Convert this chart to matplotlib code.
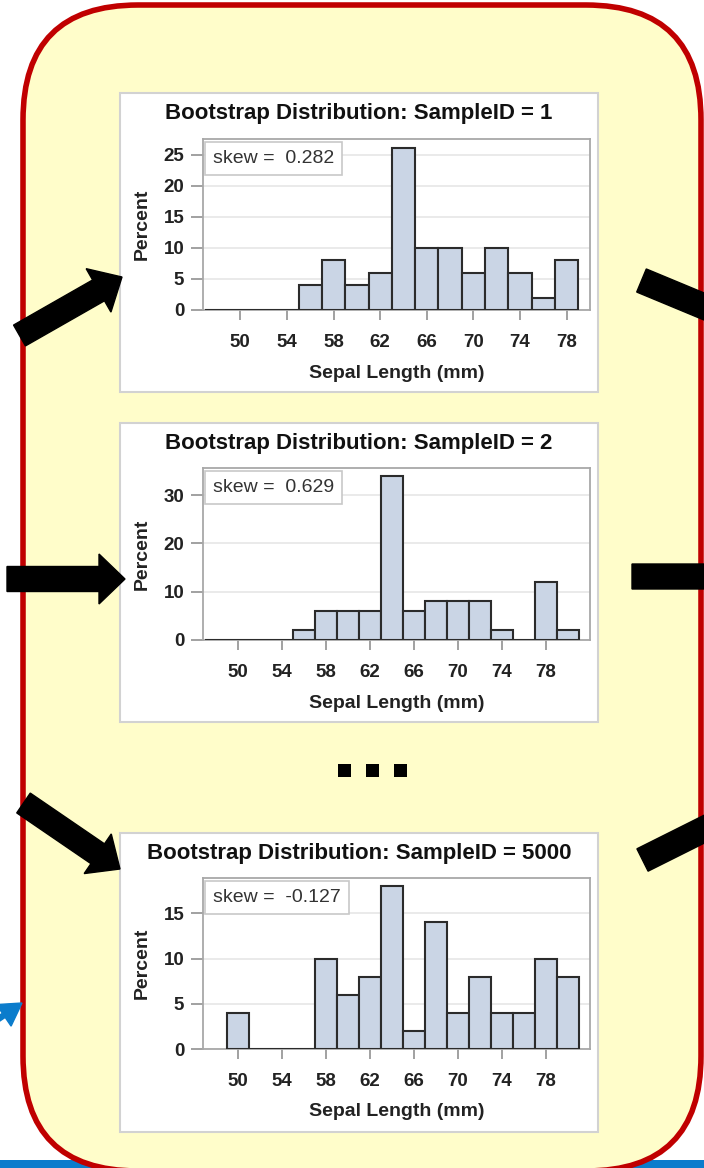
import matplotlib.pyplot as plt
from matplotlib.patches import Rectangle, FancyBboxPatch, FancyArrow

plt.rcParams['font.family'] = ['Liberation Sans', 'DejaVu Sans']

# percent of the resample in each 2 mm bin (keyed by bin midpoint)
mid1 = [48, 50, 52, 54, 56, 58, 60, 62, 64, 66, 68, 70, 72, 74, 76, 78]
pct1 = [0, 0, 0, 0, 4, 8, 4, 6, 26, 10, 10, 6, 10, 6, 2, 8]
mid2 = [48, 50, 52, 54, 56, 58, 60, 62, 64, 66, 68, 70, 72, 74, 76, 78, 80]
pct2 = [0, 0, 0, 0, 2, 6, 6, 6, 34, 6, 8, 8, 8, 2, 0, 12, 2]
mid3 = [50, 52, 54, 56, 58, 60, 62, 64, 66, 68, 70, 72, 74, 76, 78, 80]
pct3 = [4, 0, 0, 0, 10, 6, 8, 18, 2, 14, 4, 8, 4, 4, 10, 8]

sample_ids = [1, 2, 5000]
skews = [0.282, 0.629, -0.127]
xticks = [50, 54, 58, 62, 66, 70, 74, 78]
yticks = [[0, 5, 10, 15, 20, 25], [0, 10, 20, 30], [0, 5, 10, 15]]

W, H = 704, 1168
fig = plt.figure(figsize=(W / 100, H / 100), dpi=100)

# background canvas in pixel units (y down)
bg = fig.add_axes([0, 0, 1, 1])
bg.set_xlim(0, W)
bg.set_ylim(H, 0)
bg.axis('off')

bg.add_patch(Rectangle((0, 1160), W, 8, fc='#0b7ccc', ec='none', zorder=1))
bg.add_patch(FancyBboxPatch((23, 5), 678, 1166, boxstyle='round,pad=0,rounding_size=115',
                            fc='#fffdca', ec='#c00000', lw=4, zorder=2))

# white graph panels: left, top, right, bottom
panels = [(120, 93, 598, 392), (120, 423, 598, 722), (120, 833, 598, 1132)]
# plot areas inside the panels
plot_areas = [(203, 139, 590, 310), (203, 468, 590, 640), (203, 878, 590, 1049)]
xlims = [(46.8, 80), (46.8, 82), (46.8, 82)]
ylims = [(0, 27.5), (0, 35.6), (0, 18.9)]

for (l, t, r, b) in panels:
    bg.add_patch(Rectangle((l, t), r - l, b - t, fc='white', ec='#d2d2d2', lw=1.5, zorder=3))

# block arrows pointing into / out of the panels
arrow_kw = dict(length_includes_head=True, color='black', zorder=6)
bg.add_patch(FancyArrow(19.5, 335.5, 102.5, -58.5, width=24, head_width=50, head_length=27, **arrow_kw))
bg.add_patch(FancyArrow(7, 579, 118, 0, width=25, head_width=50, head_length=26, **arrow_kw))
bg.add_patch(FancyArrow(23.5, 803, 96.5, 66, width=24, head_width=48, head_length=27, **arrow_kw))
bg.add_patch(FancyArrow(641.5, 280.5, 130, 54, width=25, head_width=50, head_length=30, **arrow_kw))
bg.add_patch(FancyArrow(632, 576.5, 130, 0, width=25, head_width=50, head_length=30, **arrow_kw))
bg.add_patch(FancyArrow(642.5, 860, 130, -65, width=25, head_width=50, head_length=30, **arrow_kw))
bg.add_patch(FancyArrow(-40, 1045, 62, -42, width=5, head_width=26, head_length=22,
                        length_includes_head=True, color='#0b7ccc', zorder=6))

# ellipsis between the second and last sample
for x0 in [338, 366, 394]:
    bg.add_patch(Rectangle((x0, 764), 13, 13, fc='black', ec='none', zorder=6))

data = [(mid1, pct1), (mid2, pct2), (mid3, pct3)]
for i, (mid, pct) in enumerate(data):
    l, t, r, b = plot_areas[i]
    ax = fig.add_axes([l / W, 1 - b / H, (r - l) / W, (b - t) / H])
    ax.bar(mid, pct, width=2, color='#cad5e5', edgecolor='#2b2b2b', linewidth=1.5, zorder=3)
    ax.set_xlim(*xlims[i])
    ax.set_ylim(*ylims[i])
    ax.set_xticks(xticks)
    ax.set_yticks(yticks[i])
    ax.yaxis.grid(True, color='#e6e6e6', lw=1.2)
    ax.set_axisbelow(True)
    for s in ax.spines.values():
        s.set_color('#a8a8a8')
        s.set_linewidth(1.3)
    ax.tick_params(axis='x', length=7, width=1.3, color='#9a9a9a', pad=10)
    ax.tick_params(axis='y', length=8.5, width=1.3, color='#9a9a9a', pad=5)
    for lab in ax.get_xticklabels() + ax.get_yticklabels():
        lab.set_fontsize(13.5)
        lab.set_fontweight('bold')
        lab.set_color('#222222')
    ax.set_xlabel('Sepal Length (mm)', fontsize=14, fontweight='bold', color='#222222', labelpad=10)
    ax.set_ylabel('Percent', fontsize=14, fontweight='bold', color='#222222', labelpad=9)
    ax.annotate(f'skew =  {skews[i]:.3f}', xy=(0, 1), xycoords='axes fraction',
                xytext=(10, -11), textcoords='offset pixels', ha='left', va='top',
                fontsize=14, color='#333333', zorder=5,
                bbox=dict(boxstyle='square,pad=0.4', fc='white', ec='#c8c8c8', lw=1.2))
    pl, pt, pr, pb = panels[i]
    bg.text((pl + pr) / 2, pt + 21, f'Bootstrap Distribution: SampleID = {sample_ids[i]}',
            ha='center', va='center', fontsize=16, fontweight='bold', color='#111111', zorder=5)

fig.savefig('out.png', dpi=100)
